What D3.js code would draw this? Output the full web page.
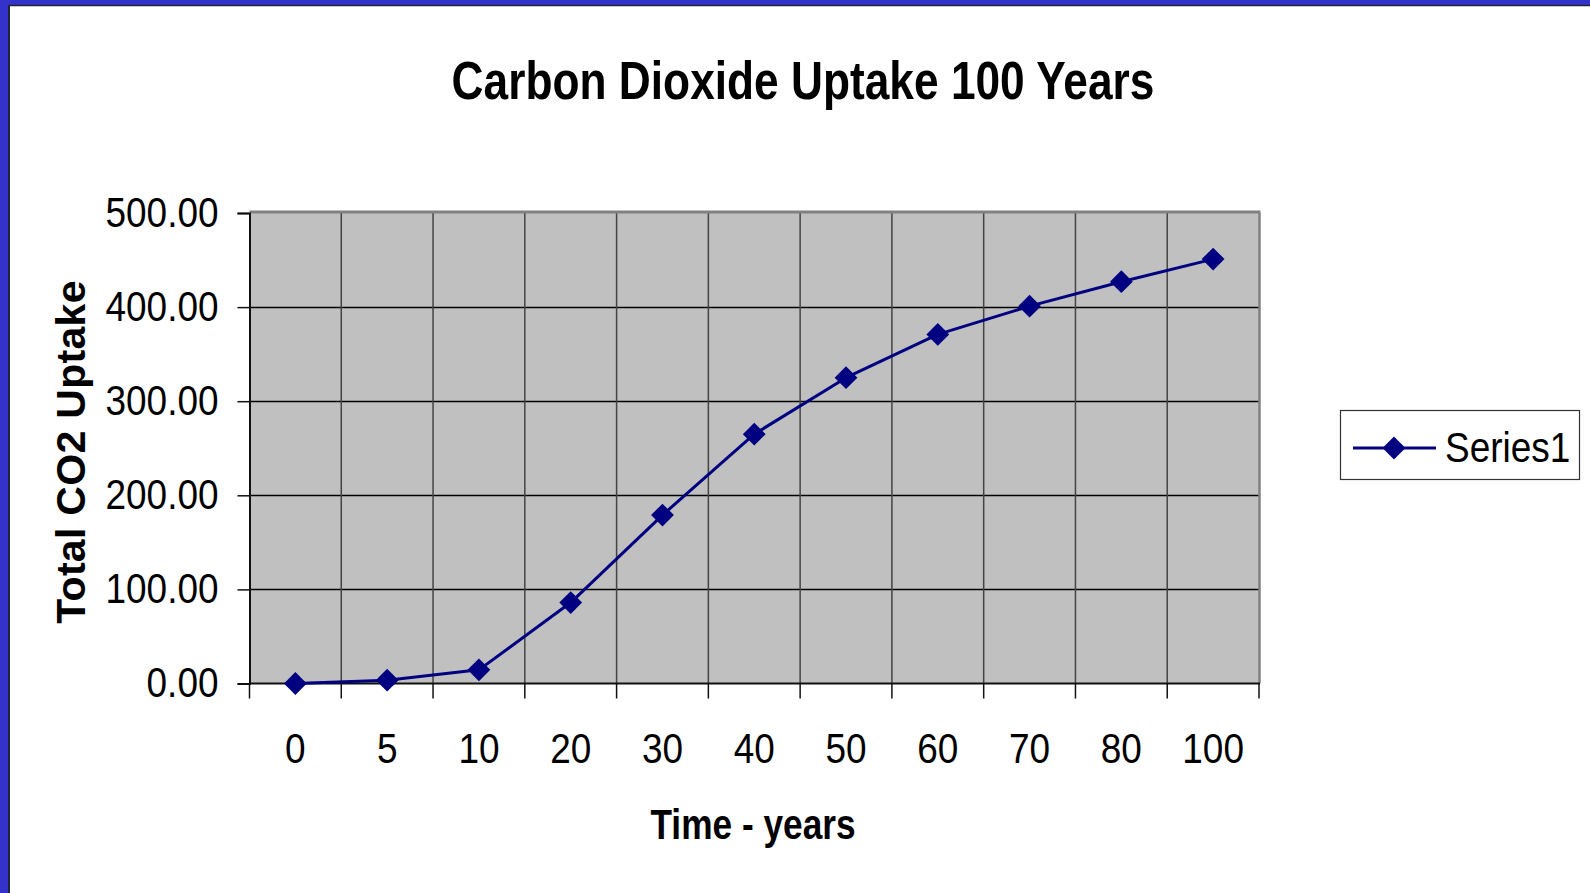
<!DOCTYPE html>
<html>
<head>
<meta charset="utf-8">
<script src="https://cdn.jsdelivr.net/npm/d3@7/dist/d3.min.js"></script>
<style>
  html, body { margin: 0; padding: 0; background: #fff; }
  svg { display: block; }
</style>
</head>
<body>
<svg id="chart" width="1590" height="893"></svg>
<script>
// ---- data ----
const categories = ["0", "5", "10", "20", "30", "40", "50", "60", "70", "80", "100"];
const uptake = [0, 3.5, 14.5, 86, 179, 265, 325, 371, 401, 427, 451];
const yTicks = [0, 100, 200, 300, 400, 500];
const seriesName = "Series1";
const titleText = "Carbon Dioxide Uptake 100 Years";
const xTitle = "Time - years";
const yTitle = "Total CO2 Uptake";

// ---- layout ----
const W = 1590, H = 893;
const plot = { left: 249.5, right: 1259, top: 213, bottom: 683.5 };
const sans = "'Liberation Sans', Arial, sans-serif";
const NX = 0.82;   // horizontal squeeze for bold titles
const NXT = 0.88;  // horizontal squeeze for tick / legend labels
const navy = "#000080";

const svg = d3.select("#chart");

function narrowText(sel, x, y, txt, size, weight, anchor, sx) {
  return sel.append("text")
    .attr("transform", `translate(${x},${y}) scale(${sx},1)`)
    .attr("text-anchor", anchor || "start")
    .attr("font-family", sans).attr("font-size", size)
    .attr("font-weight", weight || "normal").attr("fill", "#000")
    .text(txt);
}

// slide frame (blue top + left strip)
svg.append("rect").attr("x", 0).attr("y", 0).attr("width", W).attr("height", H).attr("fill", "#fff");
svg.append("rect").attr("x", 0).attr("y", 0).attr("width", W).attr("height", 5).attr("fill", "#3333CC");
svg.append("rect").attr("x", 0).attr("y", 0).attr("width", 8).attr("height", H).attr("fill", "#3333CC");
svg.append("line").attr("x1", 8).attr("x2", W).attr("y1", 5.5).attr("y2", 5.5).attr("stroke", "#22223a").attr("stroke-width", 1.5);
svg.append("line").attr("x1", 9).attr("x2", 9).attr("y1", 5).attr("y2", H).attr("stroke", "#22223a").attr("stroke-width", 2);

// scales
const x = d3.scaleBand().domain(categories).range([plot.left, plot.right]).padding(0);
const y = d3.scaleLinear().domain([0, 500]).range([plot.bottom, plot.top]);

// plot background
svg.append("rect")
  .attr("x", plot.left).attr("y", plot.top)
  .attr("width", plot.right - plot.left).attr("height", plot.bottom - plot.top)
  .attr("fill", "#C0C0C0");

// horizontal gridlines
svg.append("g").selectAll("line").data(yTicks.filter(d => d > 0 && d < 500)).join("line")
  .attr("x1", plot.left).attr("x2", plot.right)
  .attr("y1", d => Math.round(y(d)) + 0.5).attr("y2", d => Math.round(y(d)) + 0.5)
  .attr("stroke", "#000").attr("stroke-width", 1.3);

// vertical gridlines at category boundaries
svg.append("g").selectAll("line").data(categories.slice(1)).join("line")
  .attr("x1", d => x(d)).attr("x2", d => x(d))
  .attr("y1", plot.top).attr("y2", plot.bottom)
  .attr("stroke", "#444").attr("stroke-width", 1.5);

// plot border: top & right gray
svg.append("line").attr("x1", plot.left).attr("x2", plot.right + 1.5)
  .attr("y1", plot.top - 1).attr("y2", plot.top - 1).attr("stroke", "#808080").attr("stroke-width", 3);
svg.append("line").attr("x1", plot.right + 0.5).attr("x2", plot.right + 0.5)
  .attr("y1", plot.top).attr("y2", plot.bottom).attr("stroke", "#808080").attr("stroke-width", 2.5);

// y axis
const yAxis = d3.axisLeft(y).tickValues(yTicks).tickFormat(d3.format(".2f")).tickSize(12).tickPadding(18);
const gy = svg.append("g").attr("transform", `translate(${plot.left},0)`).call(yAxis);
gy.select(".domain").attr("stroke", "#111").attr("stroke-width", 2);
gy.selectAll(".tick line").attr("stroke", "#111").attr("stroke-width", 1.5);
gy.selectAll(".tick text")
  .attr("x", null).attr("dy", null)
  .attr("transform", `translate(-31,0) scale(${NXT},1)`)
  .attr("y", 13)
  .attr("font-family", sans).attr("font-size", 42).attr("fill", "#000");

// x axis: ticks at category boundaries, labels at centers
const gx = svg.append("g").attr("transform", `translate(0,${plot.bottom})`);
gx.append("line").attr("x1", plot.left).attr("x2", plot.right + 1).attr("y1", 0).attr("y2", 0)
  .attr("stroke", "#111").attr("stroke-width", 2);
const boundaries = categories.map(c => x(c)).concat([x(categories[categories.length - 1]) + x.bandwidth()]);
gx.selectAll("line.tk").data(boundaries).join("line").attr("class", "tk")
  .attr("x1", d => d).attr("x2", d => d).attr("y1", 0).attr("y2", 15)
  .attr("stroke", "#111").attr("stroke-width", 1.5);
gx.selectAll("text").data(categories).join("text")
  .attr("transform", d => `translate(${x(d) + x.bandwidth() / 2},79) scale(${NXT},1)`)
  .attr("text-anchor", "middle")
  .attr("font-family", sans).attr("font-size", 42).attr("fill", "#000")
  .text(d => d);

// line + markers
const line = d3.line().x((d, i) => x(categories[i]) + x.bandwidth() / 2).y(d => y(d));
svg.append("path").datum(uptake).attr("d", line)
  .attr("fill", "none").attr("stroke", navy).attr("stroke-width", 3).attr("stroke-linejoin", "round");
svg.append("g").selectAll("path").data(uptake).join("path")
  .attr("d", d3.symbol().type(d3.symbolSquare).size(260))
  .attr("transform", (d, i) => `translate(${x(categories[i]) + x.bandwidth() / 2},${y(d)}) rotate(45)`)
  .attr("fill", navy);

// title
narrowText(svg, 803, 99, titleText, 54, "bold", "middle", NX);

// x title
narrowText(svg, 753, 839, xTitle, 43, "bold", "middle", NX);

// y title
svg.append("text").attr("transform", "translate(85,452) rotate(-90)").attr("text-anchor", "middle")
  .attr("font-family", sans).attr("font-weight", "bold").attr("font-size", 41)
  .attr("letter-spacing", 0.3).attr("fill", "#000")
  .text(yTitle);

// legend
const lg = svg.append("g");
lg.append("rect").attr("x", 1340.5).attr("y", 410.5).attr("width", 239).attr("height", 69)
  .attr("fill", "#fff").attr("stroke", "#333").attr("stroke-width", 1.2);
lg.append("line").attr("x1", 1353).attr("x2", 1436).attr("y1", 448).attr("y2", 448)
  .attr("stroke", navy).attr("stroke-width", 3);
lg.append("path").attr("d", d3.symbol().type(d3.symbolSquare).size(260))
  .attr("transform", "translate(1394,448) rotate(45)").attr("fill", navy);
narrowText(lg, 1445, 462, seriesName, 42, "normal", "start", NXT);
</script>
</body>
</html>
